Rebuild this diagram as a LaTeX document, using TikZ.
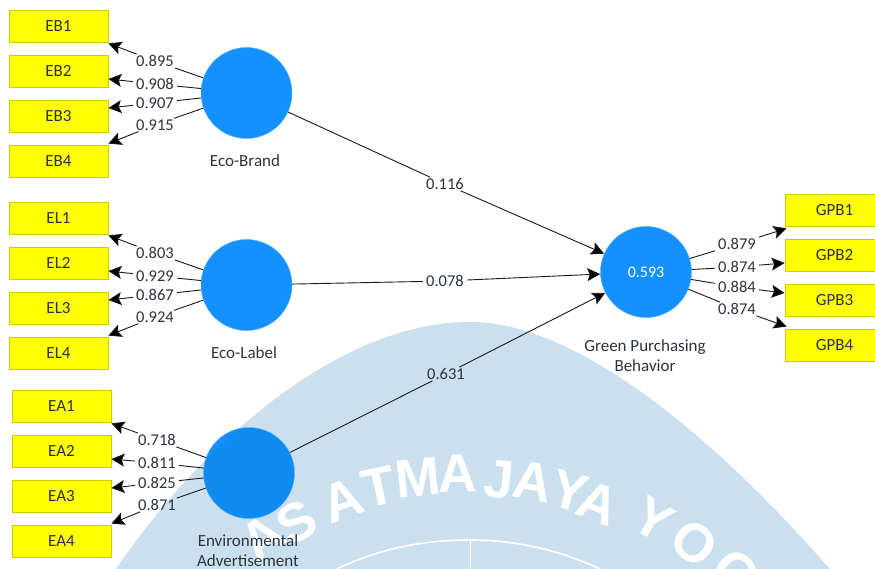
\documentclass[tikz,border=0pt]{standalone}
\usepackage{fontspec}
\setmainfont{Carlito}
\newfontfamily\wmfont{Liberation Sans}
\usetikzlibrary{arrows.meta,calc}
\definecolor{wm}{HTML}{CBE0EE}
\definecolor{lv}{HTML}{1591FF}
\definecolor{lvd}{HTML}{0F8AEE}
\definecolor{ink}{HTML}{2B3340}
\definecolor{boxedge}{HTML}{CCCC00}
\definecolor{boxfill}{HTML}{FFFF00}
\tikzset{
 indbox/.style={draw=boxedge,line width=0.8pt,fill=boxfill,minimum width=99pt,minimum height=32pt,inner sep=0pt,text=ink,font=\fontsize{17}{18}\selectfont},
 latent/.style={circle,fill=lv,draw=lv!70!white,line width=0.5pt,minimum size=91pt,inner sep=0pt},
 val/.style={text=ink,inner xsep=3pt,inner ysep=1pt,font=\fontsize{16.5}{17}\selectfont},
 captxt/.style={text=ink,align=center,font=\fontsize{17}{20}\selectfont},
 lnk/.style={draw=black!90,line width=0.9pt},
 arr/.style={lnk,-{Stealth[length=13pt,width=13pt,inset=2.5pt,fill=black]}},
 wmtext/.style={text=white,inner sep=0pt,font=\wmfont\bfseries\fontsize{54}{54}\selectfont},
}
\def\wmpath{(112,575) .. controls (195,450) and (335,322) .. (470,322) .. controls (590,322) and (740,465) .. (835,575) -- cycle}
\begin{document}
\begin{tikzpicture}[x=1pt,y=-1pt]
\useasboundingbox (0,0) rectangle (875,569);
\clip (0,0) rectangle (875,569);
\fill[white] (0,0) rectangle (875,569);
% watermark
\fill[wm] \wmpath;
\foreach \ch/\px/\py/\rt in {A/262/537/36,S/297/522/30,A/342/500/20,T/379/487/12,M/418/478/6,A/458/474/1,J/499/480/-5,A/533/482/-10,Y/570/491/-15,A/598/503/-21,Y/653/519/-30,O/694/543/-37,G/737/573/-44}
  {\node[wmtext,rotate=\rt] at (\px,\py) {\ch};}
\draw[white,line width=1.6pt] (337,569) .. controls (380,548) and (425,540) .. (470,540) .. controls (515,540) and (560,550) .. (600,569);
\draw[white,line width=1pt] (470,540) -- (470,569);

% latent variables
\node[latent] (EB) at (246.5,93) {};
\node[latent] (EL) at (246.5,285) {};
\node[latent] (EA) at (249,473) {};
\begin{scope}
 \clip (249,473) circle (45pt);
 \fill[lvd] \wmpath;
\end{scope}
\node[latent,text=white,font=\fontsize{16}{17}\selectfont] (GP) at (646,272) {0.593};
\node[captxt] (capEB) at (245,161) {Eco-Brand};
\node[captxt] (capEL) at (244,353) {Eco-Label};
\node[captxt] (capEA) at (248,551) {Environmental\\Advertisement};
\node[captxt] (capGP) at (645,356) {Green Purchasing\\Behavior};

% structural paths
\node[val] (s1) at (445,184) {0.116};
\node[val] (s2) at (445,281) {0.078};
\node[val] (s3) at (446,374) {0.631};
\draw[lnk] (EB) -- (s1);
\draw[arr] (s1) -- (GP);
\draw[lnk] (EL) -- (s2);
\draw[arr] (s2) -- (GP);
\draw[lnk] (EA) -- (s3);
\draw[arr] (s3) -- (GP);

% indicators
\foreach \n/\bx/\by/\lx/\ly/\v/\c/\tipa/\tipb in {
 EB1/58.5/26/155/61/0.895/EB/south east/1,
 EB2/58.5/71/155/84/0.908/EB/east/8,
 EB3/58.5/116/155/103/0.907/EB/east/-8,
 EB4/58.5/161/155/125/0.915/EB/north east/-1,
 EL1/58.5/218/155/253/0.803/EL/south east/1,
 EL2/58.5/263/155/276/0.929/EL/east/8,
 EL3/58.5/308/155/295/0.867/EL/east/-8,
 EL4/58.5/353/155/317/0.924/EL/north east/-1,
 EA1/61.5/406/157/440/0.718/EA/south east/1,
 EA2/61.5/451/157/463/0.811/EA/east/8,
 EA3/61.5/496/157/483/0.825/EA/east/-8,
 EA4/61.5/541/157/505/0.871/EA/north east/-1}
{
 \node[indbox] (\n) at (\bx,\by) {\n};
 \node[val] (l\n) at (\lx,\ly) {\v};
 \draw[lnk] (\c) -- (l\n);
 \draw[arr] (l\n) -- ($(\n.\tipa)+(0,\tipb)$);
}
\foreach \n/\by/\ly/\v/\tipa/\tipb/\tipx in {
 GPB1/210/244/0.879/south west/2/2,
 GPB2/255/267/0.874/west/8/0,
 GPB3/300/287/0.884/west/-7/0,
 GPB4/345/309/0.874/north west/-2/2}
{
 \node[indbox,minimum width=99pt] (\n) at (834.5,\by) {\n};
 \node[val] (l\n) at (737,\ly) {\v};
 \draw[lnk] (GP) -- (l\n);
 \draw[arr] (l\n) -- ($(\n.\tipa)+(\tipx,\tipb)$);
}
\end{tikzpicture}
\end{document}
